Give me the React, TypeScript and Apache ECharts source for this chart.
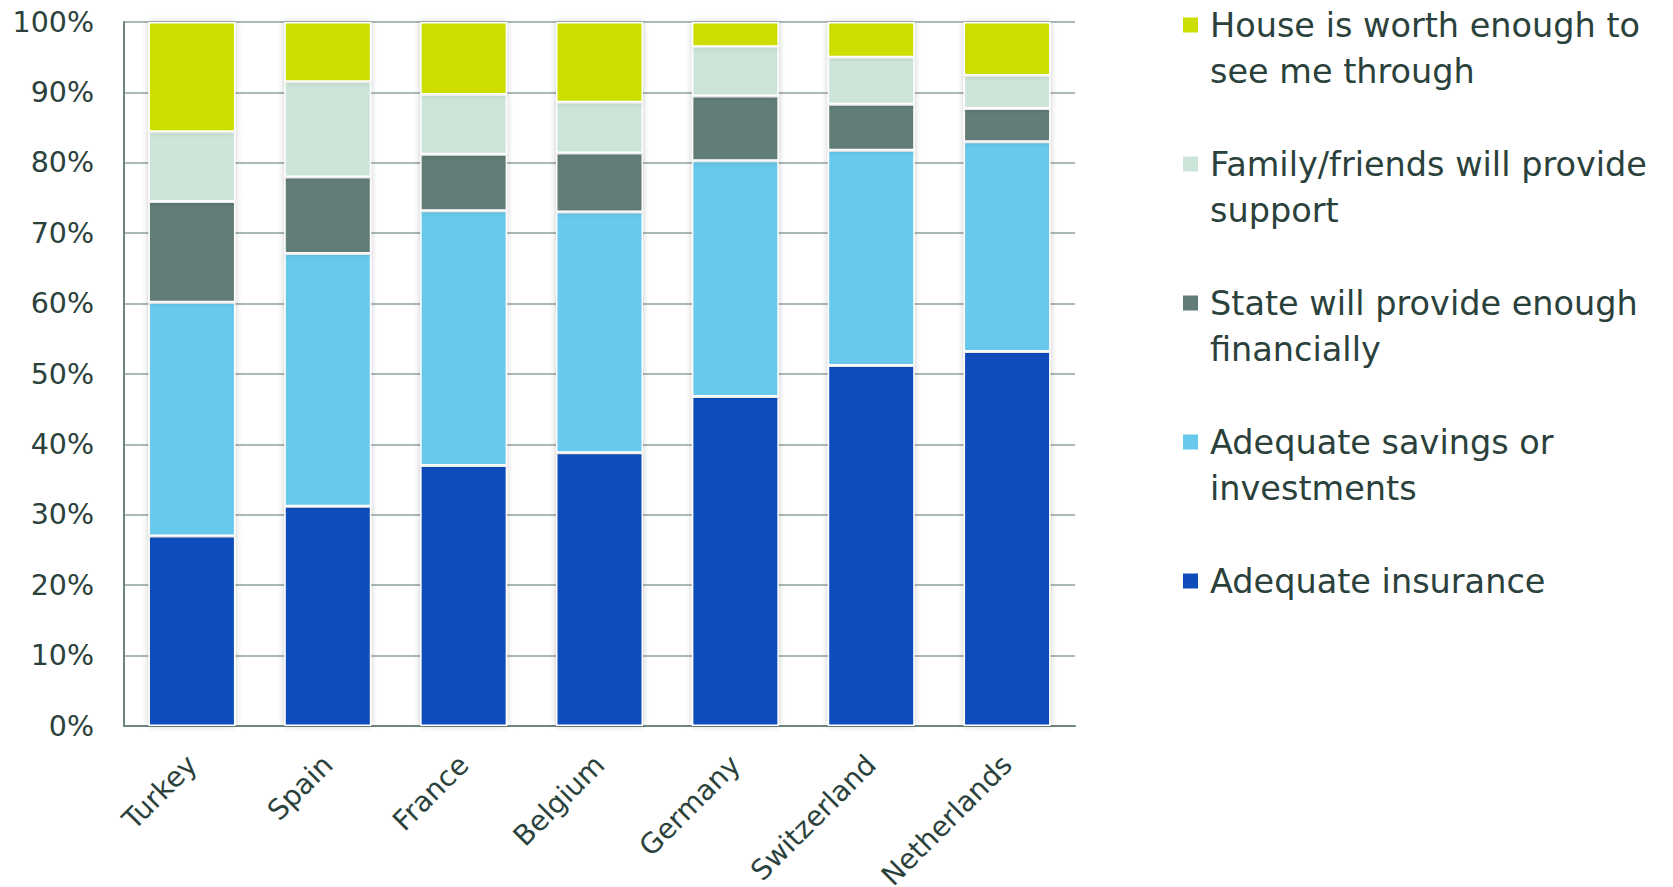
import React, { useEffect, useRef } from "react";
import * as echarts from "echarts";

const categories = ["Turkey", "Spain", "France", "Belgium", "Germany", "Switzerland", "Netherlands"];
const insurance = [27.0, 31.2, 37.0, 38.8, 46.8, 51.2, 53.2];
const savings = [33.2, 35.9, 36.2, 34.2, 33.5, 30.6, 29.8];
const stateSupport = [14.3, 10.9, 8.0, 8.4, 9.2, 6.5, 4.7];
const family = [9.9, 13.5, 8.5, 7.2, 7.0, 6.7, 4.7];
const house = [15.6, 8.5, 10.3, 11.4, 3.5, 5.0, 7.6];
const yTicks = ["0%", "10%", "20%", "30%", "40%", "50%", "60%", "70%", "80%", "90%", "100%"];

const seriesDefs = [
  { name: "Adequate insurance", lines: ["Adequate insurance"], data: insurance, color: "#104DBB" },
  { name: "Adequate savings or investments", lines: ["Adequate savings or", "investments"], data: savings, color: "#67C9EC" },
  { name: "State will provide enough financially", lines: ["State will provide enough", "financially"], data: stateSupport, color: "#627C77" },
  { name: "Family/friends will provide support", lines: ["Family/friends will provide", "support"], data: family, color: "#CDE5D9" },
  { name: "House is worth enough to see me through", lines: ["House is worth enough to", "see me through"], data: house, color: "#CCDD00" },
];

const TEXT = "#2B413C";
const FONT = "DejaVu Sans";

export default function App() {
  const ref = useRef<HTMLDivElement>(null);
  useEffect(() => {
    if (!ref.current) return;
    const chart = echarts.init(ref.current, null, { renderer: "svg" });
    const LH = 46;
    const linesMap: Record<string, string[]> = {};
    seriesDefs.forEach((s) => (linesMap[s.name] = s.lines));
    const legendFormatter = (n: string) => {
      const ls = linesMap[n] || [n];
      const body = ls.map((l) => `{t|${l}}`).join("\n");
      return ls.length === 2 ? `{p| }\n${body}` : `{p| }\n${body}\n{p| }`;
    };
    chart.setOption({
      animation: false,
      textStyle: { fontFamily: FONT },
      grid: { left: 124, top: 22, right: 598, bottom: 161, containLabel: false, outerBoundsMode: "none" },
      legend: {
        orient: "vertical",
        left: 1181,
        top: -44,
        padding: 0,
        itemWidth: 17,
        itemHeight: 17,
        itemGap: 1,
        icon: "rect",
        selectedMode: false,
        data: [...seriesDefs].reverse().map((s) => s.name),
        formatter: legendFormatter,
        textStyle: {
          color: TEXT,
          fontFamily: FONT,
          fontSize: 33.5,
          lineHeight: LH,
          rich: {
            p: { fontSize: 10, lineHeight: LH, height: LH },
            t: { color: TEXT, fontFamily: FONT, fontSize: 33.5, lineHeight: LH, padding: [0, 0, 0, 6] },
          },
        },
      },
      xAxis: {
        type: "category",
        data: categories,
        axisLine: { show: true, lineStyle: { color: "#6E8580", width: 2 } },
        axisTick: { show: false },
        axisLabel: { rotate: 45, margin: 34, color: TEXT, fontSize: 28, fontFamily: FONT },
        splitLine: { show: false },
      },
      yAxis: {
        type: "value",
        min: 0,
        max: 100,
        interval: 10,
        axisLine: { show: true, lineStyle: { color: "#6E8580", width: 2 } },
        axisTick: { show: false },
        axisLabel: {
          margin: 30,
          color: TEXT,
          fontSize: 28.5,
          fontFamily: FONT,
          formatter: (v: number) => yTicks[Math.round(v / 10)],
        },
        splitLine: { show: true, lineStyle: { color: "#8FA39E", width: 1.5 } },
      },
      series: seriesDefs.map((s) => ({
        name: s.name,
        type: "bar",
        stack: "total",
        data: s.data,
        barWidth: 87,
        itemStyle: {
          color: s.color,
          borderColor: "#ffffff",
          borderWidth: 1.5,
          shadowColor: "rgba(0,0,0,0.22)",
          shadowBlur: 6,
        },
      })),
    });
    return () => chart.dispose();
  }, []);
  return (
    <div
      ref={ref}
      style={{ position: "fixed", left: 0, top: 0, width: 1673, height: 887, background: "#fff" }}
    />
  );
}
